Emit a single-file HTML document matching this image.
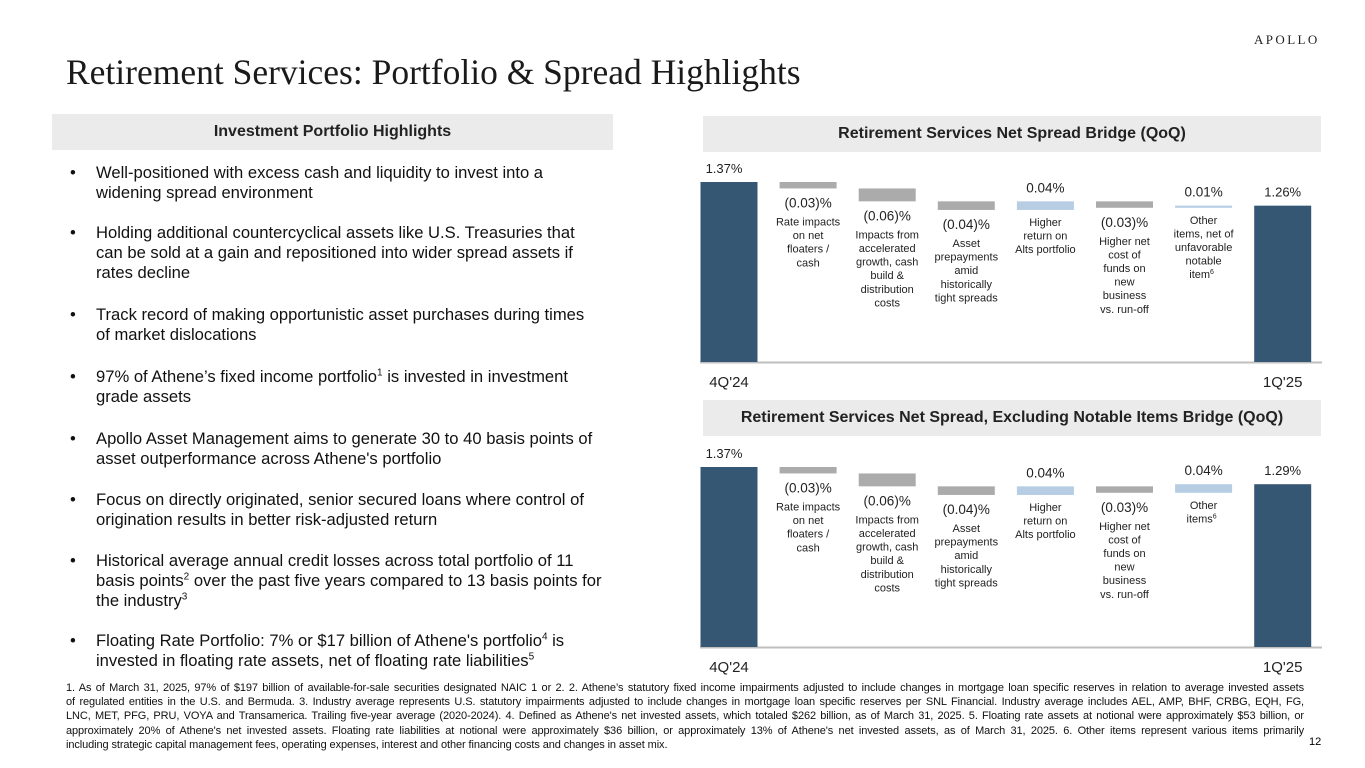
<!DOCTYPE html>
<html><head><meta charset="utf-8">
<style>
body{margin:0;background:#fff;font-family:"Liberation Sans",Arial,sans-serif;color:#000}
#page{position:relative;width:1365px;height:768px;overflow:hidden}
.abs{position:absolute}
.title{left:66px;top:51px;font-family:"Liberation Serif",serif;font-size:35.5px;color:#1a1a1a;white-space:nowrap}
.logo{left:1254px;top:32px;font-family:"Liberation Serif",serif;font-size:13px;letter-spacing:2.4px;color:#222}
.hdr{background:#ebebeb;font-weight:bold;font-size:16px;text-align:center;line-height:36px;color:#222}
.bul{left:70px;width:532px;font-size:16.6px;line-height:20px;color:#111}
.bul span.d{position:absolute;left:0}
.bul div.t{margin-left:26px}
sup{font-size:10px;line-height:0}
.fn{left:66px;top:681px;width:1238px;font-size:11px;line-height:14.2px;letter-spacing:-0.1px;color:#111}
.fn div{text-align:justify;text-align-last:justify;white-space:nowrap}
.fn div.last{text-align-last:left}
</style></head><body>
<div id="page">
<div class="abs logo">APOLLO</div>
<div class="abs title">Retirement Services: Portfolio &amp; Spread Highlights</div>
<div class="abs hdr" style="left:52px;top:114px;width:561px">Investment Portfolio Highlights</div>
<div class="abs hdr" style="left:703px;top:116px;width:618px">Retirement Services Net Spread Bridge (QoQ)</div>
<div class="abs hdr" style="left:703px;top:400px;width:618px">Retirement Services Net Spread, Excluding Notable Items Bridge (QoQ)</div>

<div class="abs bul" style="top:163px"><span class="d">•</span><div class="t">Well-positioned with excess cash and liquidity to invest into a widening spread environment</div></div>
<div class="abs bul" style="top:223px"><span class="d">•</span><div class="t">Holding additional countercyclical assets like U.S. Treasuries that can be sold at a gain and repositioned into wider spread assets if rates decline</div></div>
<div class="abs bul" style="top:305px"><span class="d">•</span><div class="t">Track record of making opportunistic asset purchases during times of market dislocations</div></div>
<div class="abs bul" style="top:367px"><span class="d">•</span><div class="t">97% of Athene’s fixed income portfolio<sup>1</sup> is invested in investment grade assets</div></div>
<div class="abs bul" style="top:429px"><span class="d">•</span><div class="t">Apollo Asset Management aims to generate 30 to 40 basis points of asset outperformance across Athene's portfolio</div></div>
<div class="abs bul" style="top:490px"><span class="d">•</span><div class="t">Focus on directly originated, senior secured loans where control of origination results in better risk-adjusted return</div></div>
<div class="abs bul" style="top:551px"><span class="d">•</span><div class="t">Historical average annual credit losses across total portfolio of 11 basis points<sup>2</sup> over the past five years compared to 13 basis points for the industry<sup>3</sup></div></div>
<div class="abs bul" style="top:631px"><span class="d">•</span><div class="t">Floating Rate Portfolio: 7% or $17 billion of Athene's portfolio<sup>4</sup> is invested in floating rate assets, net of floating rate liabilities<sup>5</sup></div></div>

<svg class="abs" id="charts" style="left:0;top:0" width="1365" height="768"></svg>

<div class="abs fn">
<div>1. As of March 31, 2025, 97% of $197 billion of available-for-sale securities designated NAIC 1 or 2. 2. Athene’s statutory fixed income impairments adjusted to include changes in mortgage loan specific reserves in relation to average invested assets</div>
<div>of regulated entities in the U.S. and Bermuda. 3. Industry average represents U.S. statutory impairments adjusted to include changes in mortgage loan specific reserves per SNL Financial. Industry average includes AEL, AMP, BHF, CRBG, EQH, FG,</div>
<div>LNC, MET, PFG, PRU, VOYA and Transamerica. Trailing five-year average (2020-2024). 4. Defined as Athene's net invested assets, which totaled $262 billion, as of March 31, 2025. 5. Floating rate assets at notional were approximately $53 billion, or</div>
<div>approximately 20% of Athene's net invested assets. Floating rate liabilities at notional were approximately $36 billion, or approximately 13% of Athene's net invested assets, as of March 31, 2025. 6. Other items represent various items primarily</div>
<div class="last">including strategic capital management fees, operating expenses, interest and other financing costs and changes in asset mix.</div>
</div>
<div class="abs" style="left:1309px;top:736px;font-size:11px">12</div>
</div>
<script>
const startEnd1 = [1.37, 1.26];
const deltas1 = [-0.03, -0.06, -0.04, 0.04, -0.03, 0.01];
const startEnd2 = [1.37, 1.29];
const deltas2 = [-0.03, -0.06, -0.04, 0.04, -0.03, 0.04];
const periodLabels = ["4Q'24", "1Q'25"];
const descs1 = [["Rate impacts","on net","floaters /","cash"],["Impacts from","accelerated","growth, cash","build &","distribution","costs"],["Asset","prepayments","amid","historically","tight spreads"],["Higher","return on","Alts portfolio"],["Higher net","cost of","funds on","new","business","vs. run-off"],["Other","items, net of","unfavorable","notable","item|6"]];
const descs2 = [["Rate impacts","on net","floaters /","cash"],["Impacts from","accelerated","growth, cash","build &","distribution","costs"],["Asset","prepayments","amid","historically","tight spreads"],["Higher","return on","Alts portfolio"],["Higher net","cost of","funds on","new","business","vs. run-off"],["Other","items|6"]];

const svg = document.getElementById('charts');
const NS = 'http://www.w3.org/2000/svg';
function mk(tag, attrs, txt){const e=document.createElementNS(NS,tag);for(const k in attrs)e.setAttribute(k,attrs[k]);if(txt!==undefined)e.textContent=txt;svg.appendChild(e);return e;}
function fmt(v){return v<0?'('+Math.abs(v).toFixed(2)+')%':v.toFixed(2)+'%';}

function drawChart(baseY, startEnd, deltas, descs, prefix){
  const pxPer = 215;
  const axisMin = startEnd[0] - 180/pxPer;
  const y = v => baseY - (v-axisMin)*pxPer;
  const xc = i => 729 + i*79.1;
  const w = 57;
  const line = mk('line',{x1:700,x2:1322,y1:baseY+0.5,y2:baseY+0.5,stroke:'#bfbfbf','stroke-width':2});
  
  
  const ends = [[0,startEnd[0]],[7,startEnd[1]]];
  ends.forEach(([i,v],k)=>{
    const r = mk('rect',{x:xc(i)-w/2,y:y(v),width:w,height:baseY-y(v),fill:'#365773'});
    
    
    const t = mk('text',{x:xc(i)+(k?0:-5),y:y(v)-9,'text-anchor':'middle','font-size':13,fill:'#222'},v.toFixed(2)+'%');
    
    
    const c = mk('text',{x:xc(i),y:baseY+25,'text-anchor':'middle','font-size':15,fill:'#222'},periodLabels[k]);
    
    
  });
  let cur = startEnd[0];
  deltas.forEach((d,i)=>{
    const nxt = cur + d;
    const top = y(Math.max(cur,nxt)), bot = y(Math.min(cur,nxt));
    const r = mk('rect',{x:xc(i+1)-w/2,y:top,width:w,height:Math.max(2,bot-top),fill:d<0?'#ababab':'#b7cde4'});
    
    
    let descTop;
    if(d<0){
      const t = mk('text',{x:xc(i+1),y:bot+19,'text-anchor':'middle','font-size':13.5,fill:'#222'},fmt(d));
      
      
      descTop = bot+37;
    } else {
      const t = mk('text',{x:xc(i+1),y:top-9,'text-anchor':'middle','font-size':13.5,fill:'#222'},fmt(d));
      
      
      descTop = bot+16;
    }
    descs[i].forEach((ln,j)=>{
      const parts = ln.split('|');
      const t = mk('text',{x:xc(i+1)-(parts[1]?2:0),y:descTop+j*13.6,'text-anchor':'middle','font-size':11,fill:'#222'},parts[0]);
      
      
      if(parts[1]){const s=document.createElementNS(NS,'tspan');s.setAttribute('font-size',7);s.setAttribute('dy',-4);s.textContent=parts[1];t.appendChild(s);}
    });
    cur = nxt;
  });
}
drawChart(362, startEnd1, deltas1, descs1, 'spread-chart');
drawChart(647, startEnd2, deltas2, descs2, 'ex-notable-chart');
</script>
</body></html>
